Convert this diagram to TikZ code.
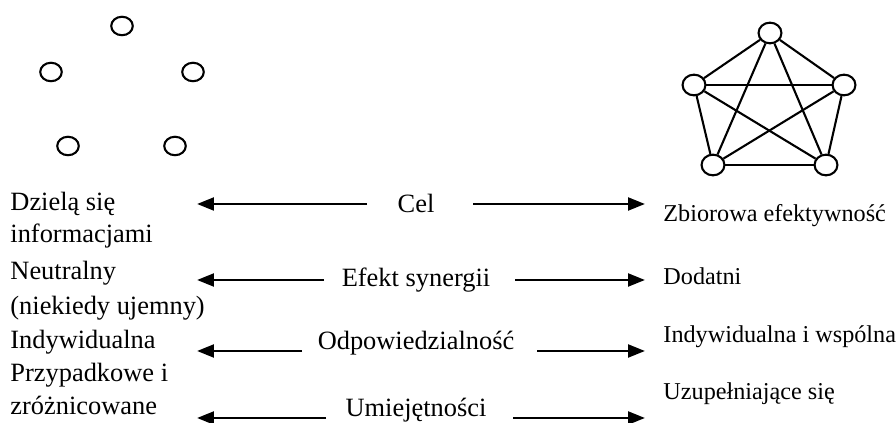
\documentclass[tikz,border=0pt]{standalone}
\usepackage{fontspec}
\setmainfont{Liberation Serif}
\usetikzlibrary{arrows.meta,shapes.geometric}
\begin{document}
\begin{tikzpicture}[x=0.4545pt,y=-0.4545pt,
  lvert/.style={draw, ellipse, line width=0.95pt, minimum width=9.8pt, minimum height=8.4pt, inner sep=0pt},
  pvert/.style={draw, ellipse, line width=0.95pt, minimum width=10.4pt, minimum height=9.4pt, inner sep=0pt, fill=white},
  edge/.style={line width=0.95pt},
  ltxt/.style={font=\fontsize{12}{14}\selectfont, inner sep=0pt, anchor=base west},
  rtxt/.style={font=\fontsize{11}{13}\selectfont, inner sep=0pt, anchor=base west},
  mtxt/.style={font=\fontsize{12}{14}\selectfont, inner sep=0pt, anchor=base},
  arr/.style={-{Triangle[length=7.7pt,width=5.8pt]}, line width=1.25pt}
]
\useasboundingbox (0,0) rectangle (896,423);

% left: isolated individuals
\node[lvert] (a1) at (122,26) {};
\node[lvert] (a2) at (51,72) {};
\node[lvert] (a3) at (193,72) {};
\node[lvert] (a4) at (68,146) {};
\node[lvert] (a5) at (175,146) {};

% right: complete graph
\node[pvert] (p1) at (770,33) {};
\node[pvert] (p2) at (694,85) {};
\node[pvert] (p3) at (844,85) {};
\node[pvert] (p4) at (713,165) {};
\node[pvert] (p5) at (826,165) {};
\draw[edge] (p1) -- (p2);
\draw[edge] (p1) -- (p3);
\draw[edge] (p1) -- (p4);
\draw[edge] (p1) -- (p5);
\draw[edge] (p2) -- (p3);
\draw[edge] (p2) -- (p4);
\draw[edge] (p2) -- (p5);
\draw[edge] (p3) -- (p4);
\draw[edge] (p3) -- (p5);
\draw[edge] (p4) -- (p5);

% left column texts
\node[ltxt] (l1a) at (10,211) {Dzielą się};
\node[ltxt] (l1b) at (10,243) {informacjami};
\node[ltxt] (l2a) at (10,280) {Neutralny};
\node[ltxt] (l2b) at (10,315) {(niekiedy ujemny)};
\node[ltxt] (l3) at (10,349) {Indywidualna};
\node[ltxt] (l4a) at (10,382) {Przypadkowe i};
\node[ltxt] (l4b) at (10,415) {zróżnicowane};

% middle labels
\node[mtxt] (m1) at (416,213) {Cel};
\node[mtxt] (m2) at (416,287) {Efekt synergii};
\node[mtxt] (m3) at (416,350) {Odpowiedzialność};
\node[mtxt] (m4) at (416,417) {Umiejętności};

% right column texts
\node[rtxt] (r1) at (663,222) {Zbiorowa efektywność};
\node[rtxt] (r2) at (663,285) {Dodatni};
\node[rtxt] (r3) at (663,343) {Indywidualna i wspólna};
\node[rtxt] (r4) at (663,400) {Uzupełniające się};

% arrow end points
\coordinate (s1l) at (367,204); \coordinate (t1l) at (197,204);
\coordinate (s1r) at (473,204); \coordinate (t1r) at (645,204);
\coordinate (s2l) at (324,280); \coordinate (t2l) at (197,280);
\coordinate (s2r) at (515,280); \coordinate (t2r) at (645,280);
\coordinate (s3l) at (302,351); \coordinate (t3l) at (197,351);
\coordinate (s3r) at (537,351); \coordinate (t3r) at (645,351);
\coordinate (s4l) at (326,418); \coordinate (t4l) at (197,418);
\coordinate (s4r) at (513,418); \coordinate (t4r) at (645,418);

\draw[arr] (s1l) -- (t1l);
\draw[arr] (s1r) -- (t1r);
\draw[arr] (s2l) -- (t2l);
\draw[arr] (s2r) -- (t2r);
\draw[arr] (s3l) -- (t3l);
\draw[arr] (s3r) -- (t3r);
\draw[arr] (s4l) -- (t4l);
\draw[arr] (s4r) -- (t4r);
\end{tikzpicture}
\end{document}
